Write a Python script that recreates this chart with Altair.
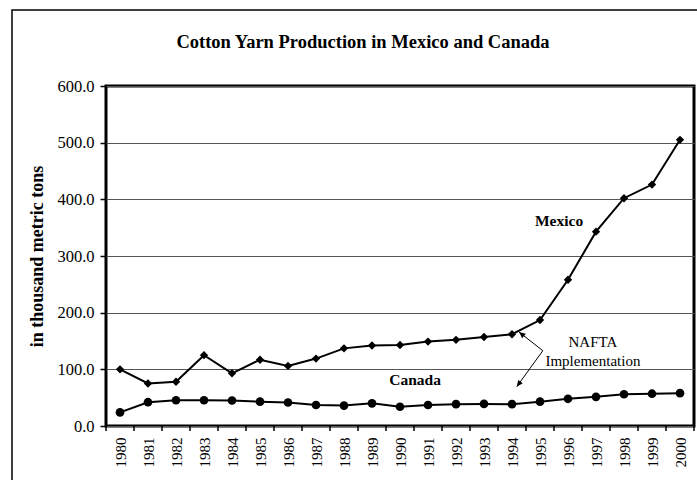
import altair as alt
import pandas as pd

years = list(range(1980, 2001))
mexico = [100, 75, 78, 125, 93, 117, 106, 119, 137, 142, 143, 149, 152, 157, 162, 187, 258, 343, 402, 426, 505]
canada = [24, 42, 45.5, 45.5, 45, 43, 41.5, 37, 36, 40, 34, 37, 38.5, 39, 38.5, 43, 48, 51.5, 56, 57, 58]
y_ticks = [0, 100, 200, 300, 400, 500, 600]
category_edges = [y - 0.5 for y in years] + [years[-1] + 0.5]

FONT = "Times New Roman, Liberation Serif, serif"
W, H = 588, 340

df = pd.DataFrame({"year": years, "mexico": mexico, "canada": canada})
edges = pd.DataFrame({"edge": category_edges})
one = pd.DataFrame({"a": [0]})

xs = alt.Scale(domain=[category_edges[0], category_edges[-1]], nice=False, zero=False)
ys = alt.Scale(domain=[0, 600], nice=False)

x_axis = alt.Axis(values=years, format="d", labelAngle=270, ticks=False, grid=False,
                  domain=False, labelPadding=11, labelFont=FONT, labelFontSize=15,
                  labelColor="black", labelOverlap=False, labelFlush=False, title=None)
y_axis = alt.Axis(values=y_ticks, format=".1f", grid=True, gridColor="#555555", gridWidth=1,
                  tickSize=6, tickColor="black", tickWidth=1.5, domain=False, labelPadding=6,
                  labelFont=FONT, labelFontSize=16.5, labelColor="black", labelOverlap=False,
                  title="in thousand metric tons", titleFont=FONT, titleFontSize=18,
                  titleFontWeight="bold", titleColor="black", titlePadding=10)

def X(field):
    return alt.X(field, type="quantitative", scale=xs, axis=x_axis)

def Y(field):
    return alt.Y(field, type="quantitative", scale=ys, axis=y_axis)

def XD(v):
    return alt.X(datum=v, type="quantitative", scale=xs, axis=x_axis)

def YD(v):
    return alt.Y(datum=v, type="quantitative", scale=ys, axis=y_axis)

base = alt.Chart(df)

mex_line = base.mark_line(color="black", strokeWidth=2).encode(x=X("year"), y=Y("mexico"))
mex_pts = base.mark_point(shape="diamond", filled=True, size=70, color="black", opacity=1).encode(
    x=X("year"), y=Y("mexico"))
can_line = base.mark_line(color="black", strokeWidth=2).encode(x=X("year"), y=Y("canada"))
can_pts = base.mark_point(shape="circle", filled=True, size=75, color="black", opacity=1).encode(
    x=X("year"), y=Y("canada"))

xticks = alt.Chart(edges).mark_rule(color="black", strokeWidth=1.5).encode(
    x=X("edge"), y=alt.value(H), y2=alt.value(H + 5))

frame = alt.Chart(one).mark_rect(fill="transparent", stroke="black", strokeWidth=1.5).encode(
    x=alt.value(-94), x2=alt.value(700), y=alt.value(-76), y2=alt.value(500))

title = alt.Chart(one).mark_text(font=FONT, fontSize=18.5, fontWeight="bold", color="black",
                                 baseline="middle").encode(
    x=alt.value(257), y=alt.value(-44),
    text=alt.value("Cotton Yarn Production in Mexico and Canada"))

def label(text, xv, yv, weight="normal", size=15):
    return alt.Chart(one).mark_text(font=FONT, fontSize=size, fontWeight=weight, color="black").encode(
        x=XD(xv), y=YD(yv), text=alt.value(text))

t_mex = label("Mexico", 1995.68, 362, "bold", 15.5)
t_can = label("Canada", 1990.54, 81, "bold", 15.5)
t_n1 = label("NAFTA", 1996.89, 148)
t_n2 = label("Implementation", 1996.89, 114.5)

arrow_path = "M0,0L0.45,1L-0.45,1Z"

def arrow(x0, y0, x1, y1, ang):
    line = alt.Chart(one).mark_rule(color="black", strokeWidth=1).encode(
        x=XD(x0), y=YD(y0), x2=alt.datum(x1), y2=alt.datum(y1))
    head = alt.Chart(one).mark_point(shape=arrow_path, filled=True, size=160, angle=ang,
                                      color="black", opacity=1).encode(
        x=XD(x1), y=YD(y1))
    return line + head

a1 = arrow(1995.1, 132.9, 1994.25, 165.9, 308)
a2 = arrow(1995.1, 132.9, 1994.17, 69.4, 216)

chart = alt.layer(frame, title, xticks, mex_line, mex_pts, can_line, can_pts,
                  t_mex, t_can, t_n1, t_n2, a1, a2).properties(
    width=W, height=H,
    autosize=alt.AutoSizeParams(type="none"),
    padding={"left": 106, "top": 86, "right": 3, "bottom": 54},
).configure_view(stroke="black", strokeWidth=3).configure_axis(
    labelFont=FONT, titleFont=FONT, labelOverlap=False, labelColor="black", titleColor="black"
)

chart.save("out.html", embed_options={"renderer": "svg", "actions": False})
